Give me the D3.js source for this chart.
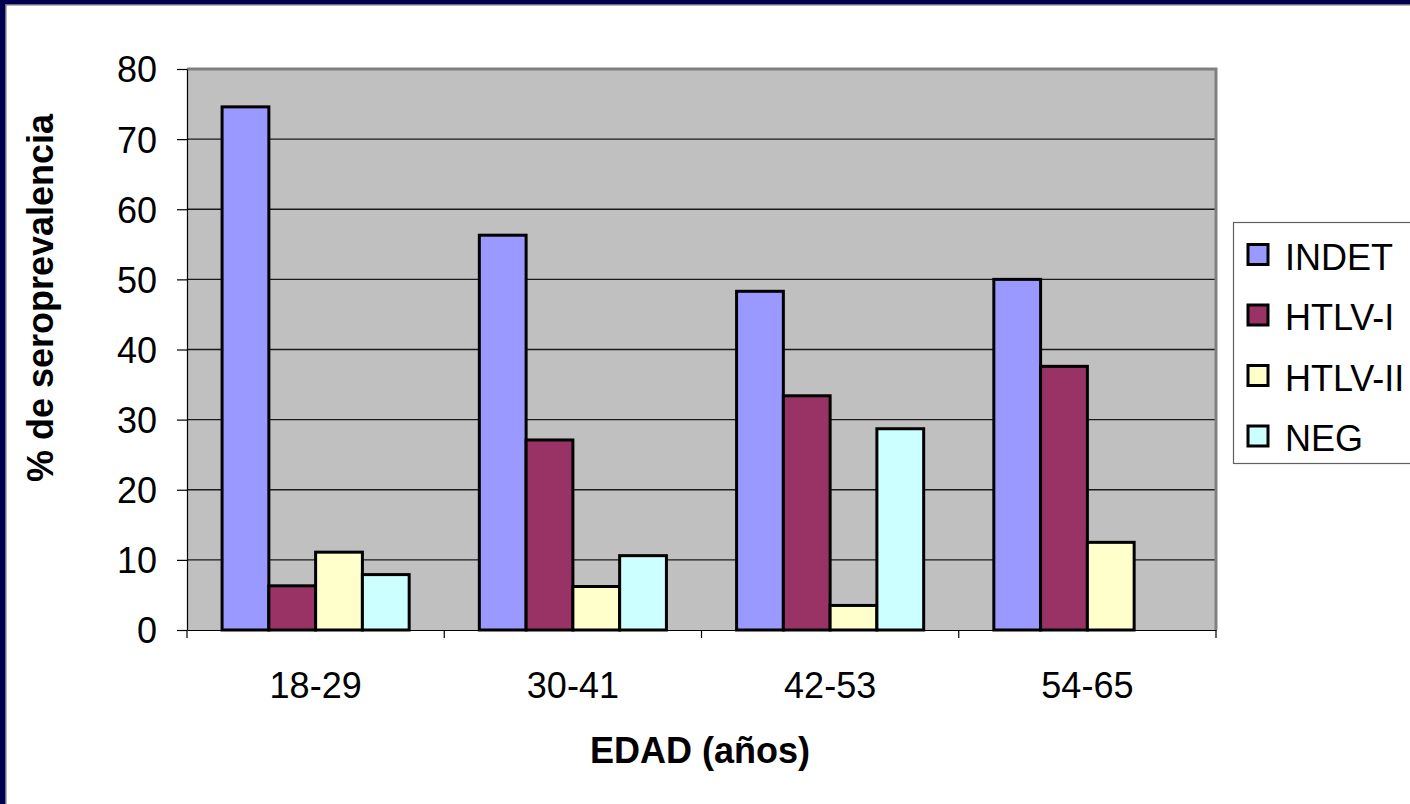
<!DOCTYPE html>
<html>
<head>
<meta charset="utf-8">
<script src="https://cdn.jsdelivr.net/npm/d3@7"></script>
<style>
  html, body { margin: 0; padding: 0; background: #fff; }
  svg { display: block; }
  text { font-family: "Liberation Sans", Arial, sans-serif; fill: #000; }
</style>
</head>
<body>
<svg id="chart" width="1410" height="804"></svg>
<script>
// Age groups and seroprevalence (%) per serological result
const ageGroups = ["18-29", "30-41", "42-53", "54-65"];
const seriesNames = ["INDET", "HTLV-I", "HTLV-II", "NEG"];
const indet  = [74.6, 56.3, 48.3, 50.0];
const htlv1  = [6.3, 27.1, 33.4, 37.6];
const htlv2  = [11.1, 6.2, 3.5, 12.5];
const neg    = [7.9, 10.6, 28.7, 0];
const yTicks = [0, 10, 20, 30, 40, 50, 60, 70, 80];
const seriesColors = ["#9999FF", "#993366", "#FFFFCC", "#CCFFFF"];

const seriesValues = [indet, htlv1, htlv2, neg];
const rows = ageGroups.map((g, i) => ({
  group: g,
  values: seriesNames.map((s, j) => ({ series: s, value: seriesValues[j][i] }))
}));

const svg = d3.select("#chart");

// slide frame (top and left edges)
svg.append("rect").attr("x", 0).attr("y", 0).attr("width", 1410).attr("height", 4).attr("fill", "#000050");
svg.append("rect").attr("x", 0).attr("y", 4).attr("width", 1410).attr("height", 1.5).attr("fill", "#707070");
svg.append("rect").attr("x", 0).attr("y", 0).attr("width", 5).attr("height", 804).attr("fill", "#000050");
svg.append("rect").attr("x", 5).attr("y", 4).attr("width", 1.5).attr("height", 800).attr("fill", "#707070");

const plot = { left: 187, right: 1216, top: 69, bottom: 630 };

const x = d3.scaleBand().domain(ageGroups).range([plot.left, plot.right]).padding(0);
const gw = x.bandwidth();
const barW = gw / 5.5;
const xInner = d3.scaleBand().domain(seriesNames)
  .range([0.75 * barW, gw - 0.75 * barW]).padding(0);
const y = d3.scaleLinear().domain([0, 80]).range([plot.bottom, plot.top]);
const color = d3.scaleOrdinal().domain(seriesNames).range(seriesColors);

// plot area background
svg.append("rect")
  .attr("x", plot.left).attr("y", plot.top)
  .attr("width", plot.right - plot.left).attr("height", plot.bottom - plot.top)
  .attr("fill", "#C0C0C0");

// horizontal gridlines
svg.append("g").selectAll("line")
  .data(yTicks.filter(t => t > 0 && t < 80))
  .join("line")
  .attr("x1", plot.left).attr("x2", plot.right)
  .attr("y1", d => y(d)).attr("y2", d => y(d))
  .attr("stroke", "#1a1a1a").attr("stroke-width", 1.4);

// plot border (top and right)
svg.append("path")
  .attr("d", `M${plot.left},${plot.top} H${plot.right} V${plot.bottom}`)
  .attr("fill", "none").attr("stroke", "#808080").attr("stroke-width", 3);

// bars
const groups = svg.append("g").selectAll("g")
  .data(rows).join("g")
  .attr("transform", d => `translate(${x(d.group)},0)`);

groups.selectAll("rect")
  .data(d => d.values.filter(v => v.value > 0))
  .join("rect")
  .attr("x", d => xInner(d.series))
  .attr("y", d => y(d.value))
  .attr("width", xInner.bandwidth())
  .attr("height", d => y(0) - y(d.value))
  .attr("fill", d => color(d.series))
  .attr("stroke", "#000").attr("stroke-width", 3);

// y axis
const yAxis = svg.append("g")
  .attr("transform", `translate(${plot.left},0)`)
  .call(d3.axisLeft(y).tickValues(yTicks).tickSize(10).tickPadding(20).tickSizeOuter(0));
yAxis.select(".domain").attr("stroke", "#000").attr("stroke-width", 1.2);
yAxis.selectAll(".tick line").attr("stroke", "#000").attr("stroke-width", 1.2);
yAxis.selectAll(".tick text")
  .style("font-family", '"Liberation Sans", Arial, sans-serif')
  .style("font-size", "36px").attr("fill", "#000")
  .attr("dy", "0.36em");

// x axis
const xAxis = svg.append("g")
  .attr("transform", `translate(0,${plot.bottom})`)
  .call(d3.axisBottom(x).tickSize(0).tickPadding(42));
xAxis.select(".domain").attr("stroke", "#000").attr("stroke-width", 1.2);
xAxis.selectAll(".tick text")
  .style("font-family", '"Liberation Sans", Arial, sans-serif')
  .style("font-size", "36px").attr("fill", "#000");

// category separator ticks below the baseline
const boundaries = ageGroups.map(g => x(g)).concat([plot.right]);
svg.append("g").selectAll("line")
  .data(boundaries).join("line")
  .attr("x1", d => d).attr("x2", d => d)
  .attr("y1", plot.bottom).attr("y2", plot.bottom + 8)
  .attr("stroke", "#000").attr("stroke-width", 1.2);

// axis titles
svg.append("text")
  .attr("x", 700).attr("y", 763)
  .attr("text-anchor", "middle")
  .style("font-size", "36px").style("font-weight", "bold")
  .text("EDAD (años)");

svg.append("text")
  .attr("transform", "translate(53,298) rotate(-90)")
  .attr("text-anchor", "middle")
  .style("font-size", "36px").style("font-weight", "bold")
  .text("% de seroprevalencia");

// legend
const legend = svg.append("g");
legend.append("rect")
  .attr("x", 1233.5).attr("y", 222.5).attr("width", 200).attr("height", 241)
  .attr("fill", "#fff").attr("stroke", "#606060").attr("stroke-width", 1.2);

const items = legend.selectAll("g.item")
  .data(seriesNames).join("g").attr("class", "item")
  .attr("transform", (d, i) => `translate(0,${254.5 + i * 60.5})`);

items.append("rect")
  .attr("x", 1248).attr("y", -10).attr("width", 20).attr("height", 20)
  .attr("fill", d => color(d)).attr("stroke", "#000").attr("stroke-width", 3);

items.append("text")
  .attr("x", 1285).attr("y", 15)
  .style("font-size", "36px")
  .text(d => d);
</script>
</body>
</html>
